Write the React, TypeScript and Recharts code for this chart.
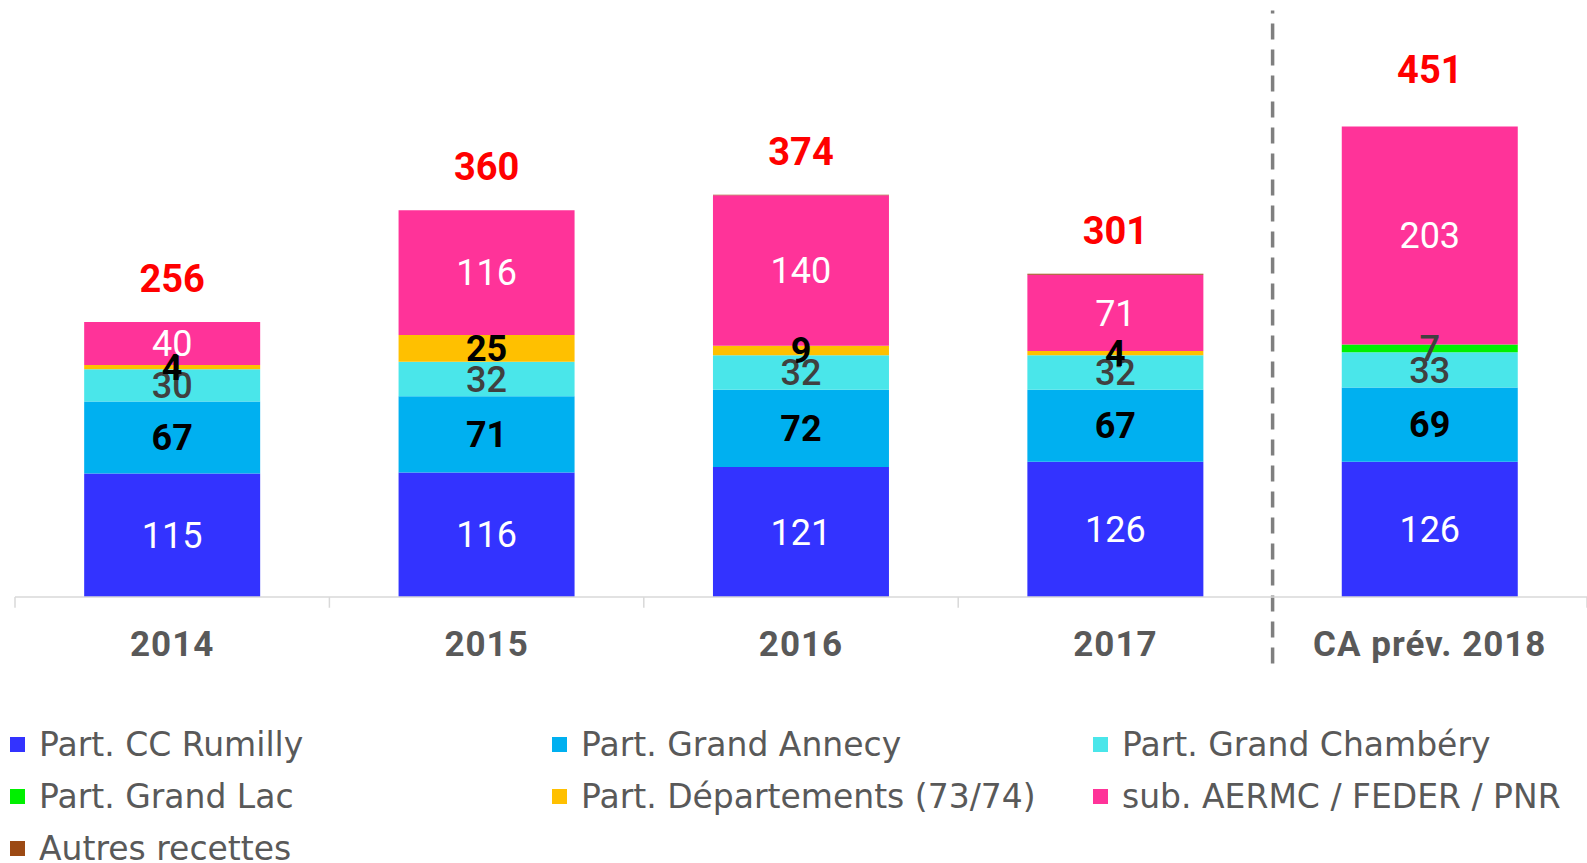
import React from 'react';
import { ComposedChart, Bar, Line, XAxis, YAxis, LabelList, Legend, ReferenceLine } from 'recharts';

const categories = ['2014', '2015', '2016', '2017', 'CA prév. 2018'];
const partCCRumilly = [115, 116, 121, 126, 126];
const partGrandAnnecy = [67, 71, 72, 67, 69];
const partGrandChambery = [30, 32, 32, 32, 33];
const partGrandLac = [0, 0, 0, 0, 7];
const partDepartements = [4, 25, 9, 4, 0];
const subAermcFederPnr = [40, 116, 140, 71, 203];
const autresRecettes = [0, 0, 0.6, 1, 0];
const totals = [256, 360, 374, 301, 451];

const seriesKeys = ['rumilly', 'annecy', 'chambery', 'lac', 'dep', 'aermc', 'autres'];
const seriesNames = [
  'Part. CC Rumilly',
  'Part. Grand Annecy',
  'Part. Grand Chambéry',
  'Part. Grand Lac',
  'Part. Départements (73/74)',
  'sub. AERMC / FEDER / PNR',
  'Autres recettes',
];
const seriesValues = [
  partCCRumilly,
  partGrandAnnecy,
  partGrandChambery,
  partGrandLac,
  partDepartements,
  subAermcFederPnr,
  autresRecettes,
];
const seriesColors = ['#3333FF', '#00B0F0', '#4AE6EA', '#00F000', '#FFC000', '#FF3399', '#9C4A14'];
const labelColors = ['#FFFFFF', '#000000', '#404040', '#404040', '#000000', '#FFFFFF', ''];
const labelWeights = [400, 700, 500, 500, 700, 400, 400];

const data = categories.map((c, i) => {
  const row: any = { category: c };
  seriesKeys.forEach((k, j) => {
    row[k] = seriesValues[j][i];
  });
  row.total = totals[i];
  return row;
});

const FONT = 'Roboto, "DejaVu Sans", sans-serif';
const LEGEND_FONT = '"DejaVu Sans", Roboto, sans-serif';

const LegendContent = () => (
  <div
    style={{
      height: 145,
      width: 1587,
      display: 'grid',
      gridTemplateColumns: '542px 541px 494px',
      gridAutoRows: '52px',
      paddingLeft: 10,
      boxSizing: 'border-box',
      fontFamily: LEGEND_FONT,
      fontSize: 33,
      color: '#595959',
    }}
  >
    {seriesNames.map((n, i) => (
      <div key={n} style={{ display: 'flex', alignItems: 'center', whiteSpace: 'nowrap' }}>
        <span
          style={{
            display: 'inline-block',
            width: 15,
            height: 15,
            background: seriesColors[i],
            marginRight: 14,
          }}
        />
        <span>{n}</span>
      </div>
    ))}
  </div>
);

export default function App() {
  const last = categories[categories.length - 1];
  return (
    <div style={{ position: 'absolute', left: 0, top: 0, width: 1587, height: 863, overflow: 'hidden', background: '#fff' }}>
      <ComposedChart
        width={1587}
        height={863}
        data={data}
        margin={{ top: 60, right: 0, left: 15, bottom: 0 }}
        barCategoryGap="22%"
      >
        <XAxis
          dataKey="category"
          axisLine={{ stroke: '#D9D9D9', strokeWidth: 1.5 }}
          tickLine={false}
          tickSize={0}
          tickMargin={34}
          height={121}
          interval={0}
          tick={{ fill: '#595959', fontSize: 35, fontWeight: 700, fontFamily: FONT, letterSpacing: 1 }}
        />
        <YAxis hide domain={[0, 500]} />
        {seriesKeys.map((k, j) => (
          <Bar
            key={k}
            dataKey={k}
            name={seriesNames[j]}
            stackId="a"
            fill={seriesColors[j]}
            isAnimationActive={false}
          >
            {labelColors[j] ? (
              <LabelList
                dataKey={k}
                position="center"
                formatter={(v: any) => (v ? v : '')}
                fill={labelColors[j]}
                style={{ fontSize: 36, fontWeight: labelWeights[j], fontFamily: FONT }}
              />
            ) : null}
          </Bar>
        ))}
        <Line
          dataKey="total"
          stroke="none"
          dot={false}
          activeDot={false}
          legendType="none"
          isAnimationActive={false}
        >
          <LabelList
            dataKey="total"
            position="top"
            offset={30}
            fill="#FF0000"
            style={{ fontSize: 38, fontWeight: 700, fontFamily: FONT }}
          />
        </Line>
        {categories.map((c) => (
          <ReferenceLine
            key={'t' + c}
            segment={[{ x: c, y: 0 }, { x: c, y: -10 }]}
            position="start"
            stroke="#D9D9D9"
            strokeWidth={1.5}
            ifOverflow="visible"
          />
        ))}
        <ReferenceLine
          segment={[{ x: last, y: 0 }, { x: last, y: -10 }]}
          position="end"
          stroke="#D9D9D9"
          strokeWidth={1.5}
          ifOverflow="visible"
        />
        <ReferenceLine
          segment={[{ x: last, y: -62 }, { x: last, y: 546 }]}
          position="start"
          stroke="#7F7F7F"
          strokeWidth={3.5}
          strokeDasharray="16 10"
          ifOverflow="visible"
        />
        <Legend verticalAlign="bottom" align="left" wrapperStyle={{ left: 0, width: 1587 }} content={() => <LegendContent />} />
      </ComposedChart>
    </div>
  );
}
